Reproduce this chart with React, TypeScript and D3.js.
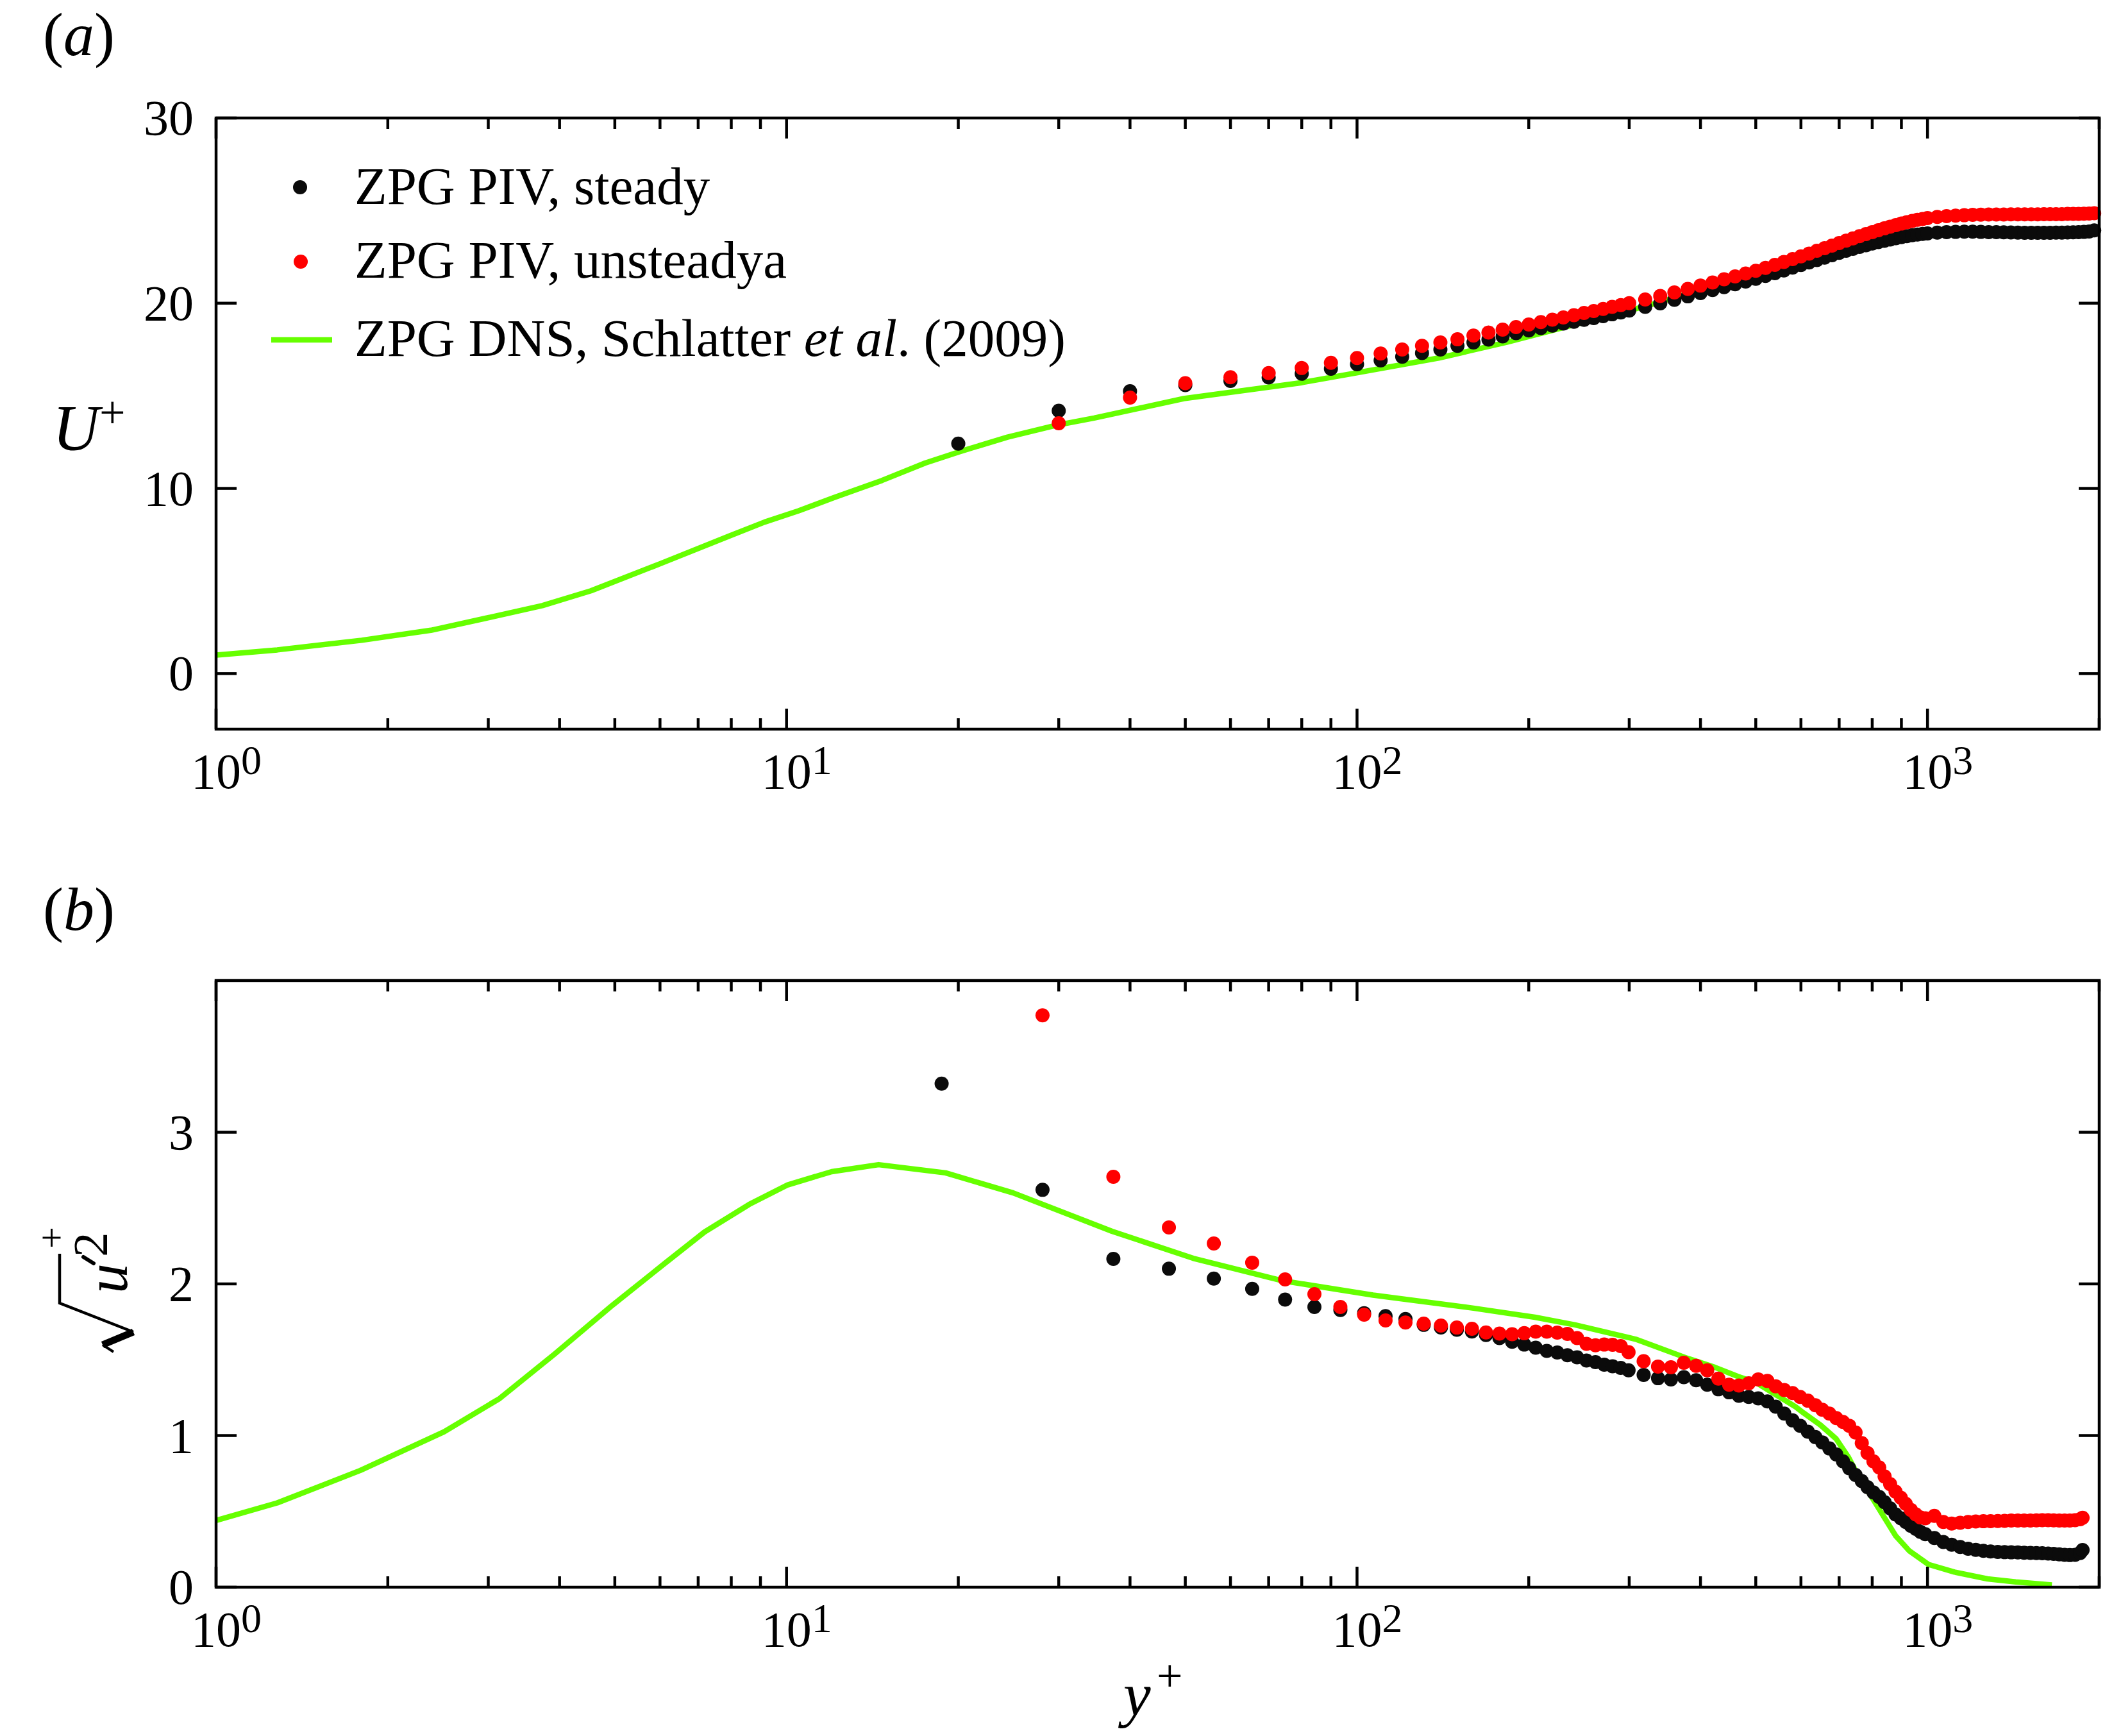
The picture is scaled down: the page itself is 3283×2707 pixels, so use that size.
import * as d3 from "d3";

type Pt = [number, number];

// panel (a): mean velocity U+ against y+
const steadyA: Pt[] = [
  [20, 12.42], [30, 14.19], [40, 15.25], [50, 15.58], [60, 15.8], [70, 15.99], [80, 16.19], [90, 16.46],
  [100, 16.7], [110, 16.91], [120, 17.11], [130, 17.31], [140, 17.5], [150, 17.7], [160, 17.88], [170, 18.04],
  [180, 18.21], [190, 18.38], [200, 18.53], [210, 18.66], [220, 18.79], [230, 18.9], [240, 19.0], [250, 19.1],
  [260, 19.2], [270, 19.3], [280, 19.4], [290, 19.5], [300, 19.6], [320, 19.8], [340, 19.99], [360, 20.18],
  [380, 20.37], [400, 20.55], [420, 20.71], [440, 20.87], [460, 21.02], [480, 21.17], [500, 21.32], [520, 21.47],
  [540, 21.62], [560, 21.77], [580, 21.92], [600, 22.06], [620, 22.2], [640, 22.33], [660, 22.46], [680, 22.59],
  [700, 22.72], [720, 22.83], [740, 22.94], [760, 23.04], [780, 23.13], [800, 23.22], [820, 23.3], [840, 23.37],
  [860, 23.44], [880, 23.51], [900, 23.57], [920, 23.62], [940, 23.67], [960, 23.71], [980, 23.74], [1000, 23.77],
  [1040, 23.81], [1080, 23.84], [1120, 23.85], [1160, 23.86], [1200, 23.86], [1240, 23.85], [1280, 23.84],
  [1320, 23.84], [1360, 23.83], [1400, 23.82], [1440, 23.81], [1480, 23.8], [1520, 23.8], [1560, 23.8],
  [1600, 23.8], [1640, 23.8], [1680, 23.81], [1720, 23.81], [1760, 23.82], [1800, 23.83], [1840, 23.84],
  [1880, 23.85], [1920, 23.87], [1960, 23.93]
];

const unsteadyA: Pt[] = [
  [30, 13.52], [40, 14.9], [50, 15.68], [60, 16.0], [70, 16.23], [80, 16.5], [90, 16.78], [100, 17.04],
  [110, 17.28], [120, 17.5], [130, 17.7], [140, 17.88], [150, 18.05], [160, 18.25], [170, 18.42], [180, 18.57],
  [190, 18.71], [200, 18.85], [210, 18.98], [220, 19.11], [230, 19.23], [240, 19.35], [250, 19.47], [260, 19.58],
  [270, 19.69], [280, 19.8], [290, 19.9], [300, 20.0], [320, 20.2], [340, 20.39], [360, 20.58], [380, 20.77],
  [400, 20.95], [420, 21.12], [440, 21.29], [460, 21.45], [480, 21.6], [500, 21.75], [520, 21.91], [540, 22.07],
  [560, 22.23], [580, 22.38], [600, 22.53], [620, 22.68], [640, 22.83], [660, 22.97], [680, 23.11], [700, 23.25],
  [720, 23.38], [740, 23.5], [760, 23.62], [780, 23.73], [800, 23.84], [820, 23.94], [840, 24.04], [860, 24.13],
  [880, 24.22], [900, 24.3], [920, 24.37], [940, 24.44], [960, 24.5], [980, 24.55], [1000, 24.6], [1040, 24.66],
  [1080, 24.7], [1120, 24.73], [1160, 24.75], [1200, 24.77], [1240, 24.78], [1280, 24.79], [1320, 24.79],
  [1360, 24.79], [1400, 24.8], [1440, 24.8], [1480, 24.8], [1520, 24.8], [1560, 24.8], [1600, 24.81],
  [1640, 24.81], [1680, 24.81], [1720, 24.81], [1760, 24.82], [1800, 24.82], [1840, 24.82], [1880, 24.83],
  [1920, 24.84], [1960, 24.86]
];

const dnsA: Pt[] = [
  [1, 1.0], [1.28, 1.28], [1.8, 1.8], [2.38, 2.34], [2.98, 3.0], [3.73, 3.67], [4.54, 4.47], [6.0, 5.93],
  [7.94, 7.43], [9.15, 8.18], [10.5, 8.79], [12.1, 9.5], [14.7, 10.43], [17.5, 11.37], [20.05, 11.97],
  [24.4, 12.77], [29.7, 13.41], [34.6, 13.8], [49.7, 14.85], [79.6, 15.7], [99.5, 16.23], [139, 17.04],
  [183, 17.89], [242, 18.86], [320, 19.83], [421, 20.93], [500, 21.85], [600, 22.68], [700, 23.42],
  [800, 24.02], [900, 24.45], [1000, 24.7], [1100, 24.8], [1300, 24.82], [1650, 24.82]
];

// panel (b): streamwise turbulence intensity against y+
const steadyB: Pt[] = [
  [18.7, 3.32], [28.1, 2.62], [37.4, 2.165], [46.8, 2.1], [56.1, 2.035], [65.5, 1.967], [74.8, 1.896],
  [84.2, 1.848], [93.5, 1.828], [102.9, 1.807], [112.2, 1.787], [121.6, 1.768], [130.9, 1.73], [140.3, 1.713],
  [149.6, 1.698], [159, 1.686], [168.3, 1.663], [177.7, 1.643], [187, 1.618], [196.4, 1.6], [205.7, 1.579],
  [215.1, 1.558], [224.4, 1.548], [233.8, 1.53], [243.1, 1.516], [252.5, 1.495], [261.8, 1.484], [271.2, 1.467],
  [280.5, 1.457], [289.9, 1.446], [299.2, 1.43], [318, 1.4], [337, 1.378], [355, 1.37], [374, 1.385],
  [393, 1.365], [411, 1.335], [430, 1.305], [449, 1.285], [467, 1.262], [486, 1.255], [505, 1.245],
  [524, 1.225], [542, 1.19], [561, 1.145], [580, 1.1], [598, 1.065], [617, 1.025], [636, 0.99], [654, 0.955],
  [673, 0.915], [692, 0.875], [711, 0.83], [729, 0.785], [748, 0.74], [767, 0.7], [785, 0.66], [804, 0.625],
  [823, 0.595], [841, 0.56], [860, 0.52], [879, 0.48], [898, 0.455], [916, 0.43], [935, 0.405], [954, 0.385],
  [972, 0.365], [991, 0.35], [1028, 0.325], [1066, 0.298], [1103, 0.28], [1141, 0.265], [1178, 0.254],
  [1215, 0.246], [1253, 0.24], [1290, 0.236], [1328, 0.233], [1365, 0.231], [1402, 0.23], [1440, 0.229],
  [1477, 0.227], [1515, 0.226], [1552, 0.225], [1589, 0.224], [1627, 0.222], [1664, 0.22], [1702, 0.217],
  [1739, 0.214], [1776, 0.212], [1814, 0.214], [1851, 0.225], [1870, 0.245]
];

const unsteadyB: Pt[] = [
  [28.1, 3.771], [37.4, 2.706], [46.8, 2.372], [56.1, 2.266], [65.5, 2.14], [74.8, 2.03], [84.2, 1.932],
  [93.5, 1.848], [102.9, 1.797], [112.2, 1.759], [121.6, 1.745], [130.9, 1.738], [140.3, 1.725], [149.6, 1.712],
  [159, 1.704], [168.3, 1.68], [177.7, 1.672], [187, 1.668], [196.4, 1.675], [205.7, 1.685], [215.1, 1.685],
  [224.4, 1.679], [233.8, 1.67], [243.1, 1.643], [252.5, 1.605], [261.8, 1.595], [271.2, 1.6], [280.5, 1.598],
  [289.9, 1.59], [299.2, 1.55], [318, 1.49], [337, 1.455], [355, 1.45], [374, 1.48], [393, 1.46], [411, 1.43],
  [430, 1.375], [449, 1.335], [467, 1.33], [486, 1.345], [505, 1.37], [524, 1.36], [542, 1.325], [561, 1.3],
  [580, 1.28], [598, 1.255], [617, 1.23], [636, 1.2], [654, 1.17], [673, 1.145], [692, 1.115], [711, 1.09],
  [729, 1.065], [748, 1.02], [767, 0.95], [785, 0.885], [804, 0.83], [823, 0.79], [841, 0.73], [860, 0.68],
  [879, 0.63], [898, 0.59], [916, 0.55], [935, 0.51], [954, 0.48], [972, 0.46], [991, 0.455], [1028, 0.47],
  [1066, 0.43], [1103, 0.42], [1141, 0.425], [1178, 0.43], [1215, 0.433], [1253, 0.435], [1290, 0.436],
  [1328, 0.437], [1365, 0.438], [1402, 0.44], [1440, 0.44], [1477, 0.44], [1515, 0.44], [1552, 0.441],
  [1589, 0.442], [1627, 0.442], [1664, 0.441], [1702, 0.44], [1739, 0.44], [1776, 0.44], [1814, 0.442],
  [1851, 0.448], [1870, 0.458]
];

const dnsB: Pt[] = [
  [1, 0.44], [1.28, 0.556], [1.79, 0.77], [2.51, 1.025], [3.14, 1.244], [3.92, 1.537], [4.91, 1.848],
  [6.14, 2.14], [7.18, 2.342], [8.6, 2.524], [10.05, 2.653], [12.0, 2.74], [14.5, 2.786], [19.0, 2.732],
  [24.96, 2.6], [37.2, 2.347], [51.6, 2.169], [74.2, 2.02], [106.7, 1.926], [160, 1.84], [205, 1.78],
  [241, 1.73], [308, 1.635], [379, 1.51], [424, 1.45], [465, 1.39], [500, 1.35], [531, 1.29], [587, 1.19],
  [606, 1.15], [649, 1.07], [691, 0.98], [726, 0.86], [760, 0.72], [803, 0.58], [840, 0.46], [879, 0.34],
  [929, 0.24], [1004, 0.15], [1115, 0.1], [1274, 0.055], [1428, 0.035], [1652, 0.015]
];

const yTicksA = [0, 10, 20, 30];
const yTicksB = [0, 1, 2, 3];
const xDecades = [1, 10, 100, 1000];
const xExponents = ["0", "1", "2", "3"];
const legendLabels = ["ZPG PIV, steady", "ZPG PIV, unsteadya"];

const W = 3283;
const H = 2707;
const left = 337;
const right = 3274;
const FONT = "'Liberation Serif', 'Times New Roman', serif";
const BLACK = "#0b0b0b";
const RED = "#ff0000";
const GREEN = "#66ff00";

const x = d3.scaleLog([1, 2000], [left, right]);
const yA = d3.scaleLinear([-3, 30], [1137, 184]);
const yB = d3.scaleLinear([0, 4], [2475, 1529]);

type PanelProps = {
  y: d3.ScaleLinear<number, number>;
  yTicks: number[];
  steady: Pt[];
  unsteady: Pt[];
  dns: Pt[];
};

function Panel({ y, yTicks, steady, unsteady, dns }: PanelProps) {
  const [bottom, top] = y.range();
  const line = d3.line<Pt>().x(d => x(d[0])).y(d => y(d[1]));
  const isMajor = (t: number) => Math.abs(Math.log10(t) - Math.round(Math.log10(t))) < 1e-9;
  return (
    <g>
      <path d={line(dns) ?? undefined} fill="none" stroke={GREEN} strokeWidth={8.5} strokeLinejoin="round" />
      {steady.map((d, i) => (
        <circle key={`s${i}`} cx={x(d[0])} cy={y(d[1])} r={11} fill={BLACK} />
      ))}
      {unsteady.map((d, i) => (
        <circle key={`u${i}`} cx={x(d[0])} cy={y(d[1])} r={11} fill={RED} />
      ))}
      <rect x={left} y={top} width={right - left} height={bottom - top} fill="none" stroke="#000" strokeWidth={4.5} />
      {x.ticks().map(t => {
        const len = isMajor(t) ? 32 : 17;
        return (
          <g key={t} stroke="#000" strokeWidth={4.5}>
            <line x1={x(t)} x2={x(t)} y1={bottom} y2={bottom - len} />
            <line x1={x(t)} x2={x(t)} y1={top} y2={top + len} />
          </g>
        );
      })}
      {yTicks.map(t => (
        <g key={t}>
          <line x1={left} x2={left + 32} y1={y(t)} y2={y(t)} stroke="#000" strokeWidth={4.5} />
          <line x1={right} x2={right - 32} y1={y(t)} y2={y(t)} stroke="#000" strokeWidth={4.5} />
          <text x={302} y={y(t) + 26} textAnchor="end" fontSize={78}>{t}</text>
        </g>
      ))}
      {xDecades.map((v, i) => (
        <text key={v} x={x(v) + 16} y={bottom + 92} textAnchor="middle" fontSize={78}>
          10<tspan dy={-22} fontSize={64}>{xExponents[i]}</tspan>
        </text>
      ))}
    </g>
  );
}

export default function App() {
  return (
    <svg
      width={W}
      height={H}
      viewBox={`0 0 ${W} ${H}`}
      style={{ position: "absolute", left: 0, top: 0, background: "#fff" }}
      fontFamily={FONT}
      fill="#000"
    >
      <rect width={W} height={H} fill="#fff" />
      <Panel y={yA} yTicks={yTicksA} steady={steadyA} unsteady={unsteadyA} dns={dnsA} />
      <Panel y={yB} yTicks={yTicksB} steady={steadyB} unsteady={unsteadyB} dns={dnsB} />

      {/* panel tags */}
      <text x={67} y={86} fontSize={96}>(<tspan fontStyle="italic">a</tspan>)</text>
      <text x={67} y={1450} fontSize={96}>(<tspan fontStyle="italic">b</tspan>)</text>

      {/* legend */}
      <circle cx={468} cy={292} r={11} fill={BLACK} />
      <circle cx={469} cy={408} r={11} fill={RED} />
      <line x1={423} x2={518} y1={530} y2={530} stroke={GREEN} strokeWidth={8.5} />
      <text x={553} y={318} fontSize={83}>{legendLabels[0]}</text>
      <text x={553} y={433} fontSize={83}>{legendLabels[1]}</text>
      <text x={553} y={555} fontSize={83}>
        ZPG DNS, Schlatter <tspan fontStyle="italic">et al</tspan>. (2009)
      </text>

      {/* axis titles */}
      <text x={82} y={702} fontSize={101} fontStyle="italic">U</text>
      <text x={155} y={667} fontSize={72}>+</text>
      <text x={1752} y={2675} fontSize={96} fontStyle="italic">y</text>
      <text x={1804} y={2637} fontSize={72}>+</text>

      <g transform="translate(198,2017) rotate(-90)">
        <text x={0} y={0} fontSize={94} fontStyle="italic">u</text>
        <line x1={47} y1={-52} x2={57} y2={-68} stroke="#000" strokeWidth={6} strokeLinecap="round" />
        <text x={57} y={-31} fontSize={77}>2</text>
        <path d="M-91,-21 L-80,-38" fill="none" stroke="#000" strokeWidth={4} />
        <path d="M-80,-38 L-60,10" fill="none" stroke="#000" strokeWidth={11} />
        <path d="M-60,10 L-15,-105 L62,-105" fill="none" stroke="#000" strokeWidth={4.5} />
        <text x={87} y={-98} fontSize={60} textAnchor="middle">+</text>
      </g>
    </svg>
  );
}
